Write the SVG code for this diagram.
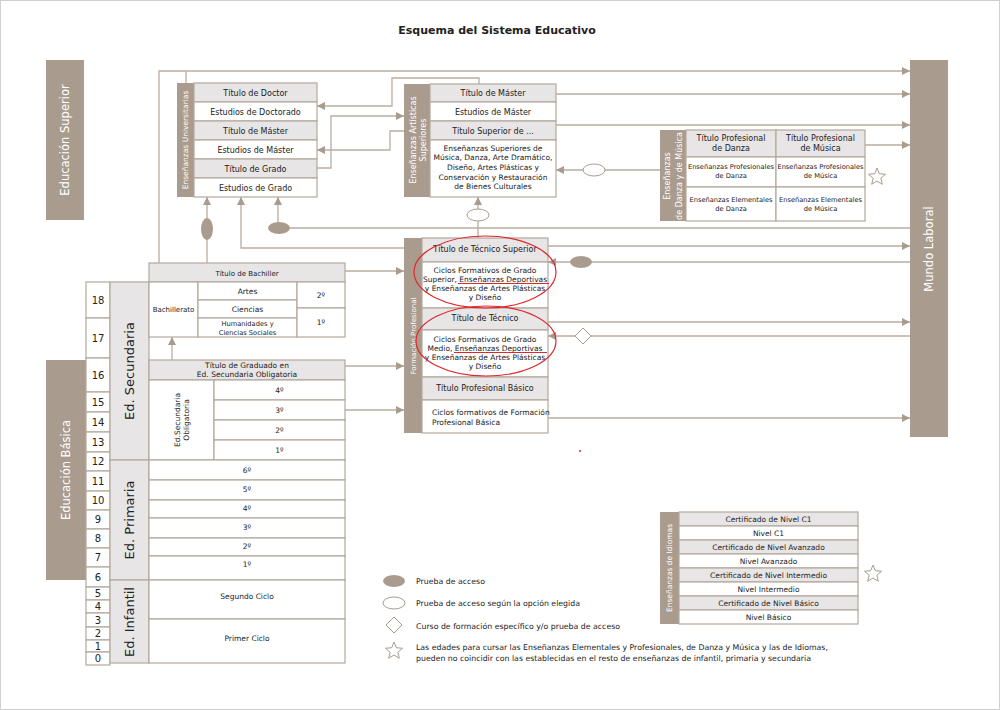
<svg xmlns="http://www.w3.org/2000/svg" width="1000" height="710" viewBox="0 0 1000 710">
<style>
text{font-family:"DejaVu Sans","Noto Sans",sans-serif;fill:#222;}
.c{text-anchor:middle;}
.b{fill:#a99c8f;stroke:none;}
.g{fill:#e7e5e5;stroke:#b3a89d;stroke-width:1.2;}
.w{fill:#fff;stroke:#b3a89d;stroke-width:1.2;}
.wt{fill:#fff;text-anchor:middle;}
.f8{font-size:8px;}
.f75{font-size:7.5px;}
.lg{font-size:7.8px;}
.f7{font-size:7px;}
.f68{font-size:6.7px;}
.age{font-size:10px;text-anchor:middle;}
.big{font-size:13px;text-anchor:middle;}
.conn path{fill:none;stroke:#b9ada1;stroke-width:1.3;}
.fe{fill:#a99c8f;stroke:none;}
.oe{fill:#fff;stroke:#a99c8f;stroke-width:1;}
.red{fill:none;stroke:#e0262b;stroke-width:1.2;}
</style>
<defs>
<marker id="ar" markerWidth="8" markerHeight="8" refX="8" refY="4" orient="auto" markerUnits="userSpaceOnUse"><path d="M0,0 L8,4 L0,8 z" fill="#a99c8f"/></marker>
<polygon id="star" points="0,-9 2.35,-3.24 8.56,-2.78 3.8,1.24 5.29,7.28 0,4 -5.29,7.28 -3.8,1.24 -8.56,-2.78 -2.35,-3.24" fill="#fff" stroke="#a99c8f" stroke-width="1"/>
</defs>
<rect x="0.5" y="0.5" width="999" height="709" fill="#fff" stroke="#d0d0d0"/>
<text x="497" y="34" class="c" style="font-size:11px;font-weight:bold;">Esquema del Sistema Educativo</text>

<g id="educacion-superior">
<rect x="46" y="60" width="38" height="160" class="b"/>
<text class="wt" transform="translate(69,140) rotate(-90)" style="font-size:11.5px">Educación Superior</text>
</g>
<g id="educacion-basica">
<rect x="46" y="360" width="40" height="220" class="b"/>
<text class="wt" transform="translate(70,470) rotate(-90)" style="font-size:11.5px">Educación Básica</text>
</g>
<g id="mundo-laboral">
<rect x="910" y="60" width="38" height="377" class="b"/>
<text class="wt" transform="translate(933,249) rotate(-90)" style="font-size:11.5px">Mundo Laboral</text>
</g>

<g id="edades">
<rect x="86" y="282" width="24" height="36" class="w"/><text x="98" y="304" class="age">18</text>
<rect x="86" y="318" width="24" height="40" class="w"/><text x="98" y="342" class="age">17</text>
<rect x="86" y="358" width="24" height="34" class="w"/><text x="98" y="379" class="age">16</text>
<rect x="86" y="392" width="24" height="20" class="w"/><text x="98" y="406" class="age">15</text>
<rect x="86" y="412" width="24" height="20" class="w"/><text x="98" y="426" class="age">14</text>
<rect x="86" y="432" width="24" height="20" class="w"/><text x="98" y="446" class="age">13</text>
<rect x="86" y="452" width="24" height="19" class="w"/><text x="98" y="465" class="age">12</text>
<rect x="86" y="471" width="24" height="20" class="w"/><text x="98" y="485" class="age">11</text>
<rect x="86" y="491" width="24" height="19" class="w"/><text x="98" y="504" class="age">10</text>
<rect x="86" y="510" width="24" height="19" class="w"/><text x="98" y="523" class="age">9</text>
<rect x="86" y="529" width="24" height="19" class="w"/><text x="98" y="542" class="age">8</text>
<rect x="86" y="548" width="24" height="19" class="w"/><text x="98" y="561" class="age">7</text>
<rect x="86" y="567" width="24" height="20" class="w"/><text x="98" y="581" class="age">6</text>
<rect x="86" y="587" width="24" height="13" class="w"/><text x="98" y="597" class="age">5</text>
<rect x="86" y="600" width="24" height="13" class="w"/><text x="98" y="610" class="age">4</text>
<rect x="86" y="613" width="24" height="14" class="w"/><text x="98" y="624" class="age">3</text>
<rect x="86" y="627" width="24" height="13" class="w"/><text x="98" y="637" class="age">2</text>
<rect x="86" y="640" width="24" height="12" class="w"/><text x="98" y="650" class="age">1</text>
<rect x="86" y="652" width="24" height="13" class="w"/><text x="98" y="662" class="age">0</text>
</g>

<g id="ed-secundaria">
<rect x="110" y="282" width="39" height="178" class="g"/>
<text class="big" transform="translate(134,371) rotate(-90)">Ed. Secundaria</text>
</g>
<g id="ed-primaria">
<rect x="110" y="460" width="39" height="120" class="g"/>
<text class="big" transform="translate(134,520) rotate(-90)">Ed. Primaria</text>
</g>
<g id="ed-infantil">
<rect x="110" y="580" width="39" height="83" class="g"/>
<text class="big" transform="translate(134,622) rotate(-90)">Ed. Infantil</text>
</g>

<g id="bachillerato">
<rect x="149" y="263" width="196" height="19" class="g"/>
<text x="247" y="275.5" class="c f7">Título de Bachiller</text>
<rect x="149" y="282" width="49" height="55" class="w"/>
<text x="173.5" y="312" class="c f7">Bachillerato</text>
<rect x="198" y="282" width="99" height="18" class="w"/>
<text x="247.5" y="293.5" class="c f75">Artes</text>
<rect x="198" y="300" width="99" height="18" class="w"/>
<text x="247.5" y="311.5" class="c f75">Ciencias</text>
<rect x="198" y="318" width="99" height="19" class="w"/>
<text x="247.5" y="326" class="c f68">Humanidades y</text>
<text x="247.5" y="334.5" class="c f68">Ciencias Sociales</text>
<rect x="297" y="282" width="48" height="26" class="w"/>
<text x="321" y="297.5" class="c f75">2º</text>
<rect x="297" y="308" width="48" height="29" class="w"/>
<text x="321" y="325" class="c f75">1º</text>
</g>

<g id="eso">
<rect x="149" y="360" width="196" height="20" class="g"/>
<text x="247" y="367.5" class="c f75">Título de Graduado en</text>
<text x="247" y="377" class="c f75">Ed. Secundaria Obligatoria</text>
<rect x="149" y="380" width="65" height="80" class="w"/>
<text class="c f75" transform="translate(181,420) rotate(-90)"><tspan x="0" y="-1.5">Ed.Secundaria</tspan><tspan x="0" y="7.5">Obligatoria</tspan></text>
<rect x="214" y="380" width="131" height="20" class="w"/><text x="279.5" y="393" class="c f75">4º</text>
<rect x="214" y="400" width="131" height="20" class="w"/><text x="279.5" y="413" class="c f75">3º</text>
<rect x="214" y="420" width="131" height="20" class="w"/><text x="279.5" y="433" class="c f75">2º</text>
<rect x="214" y="440" width="131" height="20" class="w"/><text x="279.5" y="453" class="c f75">1º</text>
</g>

<g id="primaria">
<rect x="149" y="460" width="196" height="20" class="w"/><text x="247" y="472.5" class="c f75">6º</text>
<rect x="149" y="480" width="196" height="20" class="w"/><text x="247" y="492" class="c f75">5º</text>
<rect x="149" y="500" width="196" height="18" class="w"/><text x="247" y="511" class="c f75">4º</text>
<rect x="149" y="518" width="196" height="20" class="w"/><text x="247" y="530" class="c f75">3º</text>
<rect x="149" y="538" width="196" height="18" class="w"/><text x="247" y="549" class="c f75">2º</text>
<rect x="149" y="556" width="196" height="24" class="w"/><text x="247" y="567" class="c f75">1º</text>
</g>
<g id="infantil">
<rect x="149" y="580" width="196" height="39" class="w"/><text x="247" y="598.5" class="c f75">Segundo Ciclo</text>
<rect x="149" y="619" width="196" height="44" class="w"/><text x="247" y="641" class="c f75">Primer Ciclo</text>
</g>

<g id="universitarias">
<rect x="177" y="83" width="17" height="114" class="b"/>
<text class="wt f75" transform="translate(188,140) rotate(-90)">Enseñanzas Universitarias</text>
<rect x="194" y="83" width="123" height="19" class="g"/><text x="255.5" y="95.5" class="c f8">Título de Doctor</text>
<rect x="194" y="102" width="123" height="19" class="w"/><text x="255.5" y="114.5" class="c f8">Estudios de Doctorado</text>
<rect x="194" y="121" width="123" height="19" class="g"/><text x="255.5" y="133.5" class="c f8">Título de Máster</text>
<rect x="194" y="140" width="123" height="19" class="w"/><text x="255.5" y="152.5" class="c f8">Estudios de Máster</text>
<rect x="194" y="159" width="123" height="19" class="g"/><text x="255.5" y="171.5" class="c f8">Título de Grado</text>
<rect x="194" y="178" width="123" height="19" class="w"/><text x="255.5" y="190.5" class="c f8">Estudios de Grado</text>
</g>

<g id="artisticas">
<rect x="404" y="84" width="26" height="113" class="b"/>
<text class="wt f8" transform="translate(417,140) rotate(-90)"><tspan x="0" y="-1">Enseñanzas Artísticas</tspan><tspan x="0" y="9">Superiores</tspan></text>
<rect x="430" y="84" width="126" height="18" class="g"/><text x="493" y="96" class="c f8">Título de Máster</text>
<rect x="430" y="102" width="126" height="19" class="w"/><text x="493" y="114.5" class="c f8">Estudios de Máster</text>
<rect x="430" y="121" width="126" height="19" class="g"/><text x="493" y="133.5" class="c f8">Título Superior de ...</text>
<rect x="430" y="140" width="126" height="57" class="w"/>
<text x="493" y="150.5" class="c f75">Enseñanzas Superiores de</text>
<text x="493" y="160.2" class="c f75">Música, Danza, Arte Dramático,</text>
<text x="493" y="169.9" class="c f75">Diseño, Artes Plásticas y</text>
<text x="493" y="179.6" class="c f75">Conservación y Restauración</text>
<text x="493" y="189.3" class="c f75">de Bienes Culturales</text>
</g>

<g id="danza-musica">
<rect x="660" y="130" width="26" height="91" class="b"/>
<text class="wt f8" transform="translate(673,176) rotate(-90)"><tspan x="0" y="-3">Enseñanzas</tspan><tspan x="0" y="9">de Danza y de Música</tspan></text>
<rect x="686" y="130" width="90" height="27" class="g"/>
<text x="731" y="141" class="c f8">Título Profesional</text><text x="731" y="151" class="c f8">de Danza</text>
<rect x="776" y="130" width="89" height="27" class="g"/>
<text x="820.5" y="141" class="c f8">Título Profesional</text><text x="820.5" y="151" class="c f8">de Música</text>
<rect x="686" y="157" width="90" height="30" class="w"/>
<text x="731" y="168.5" class="c f68">Enseñanzas Profesionales</text><text x="731" y="177.5" class="c f68">de Danza</text>
<rect x="776" y="157" width="89" height="30" class="w"/>
<text x="820.5" y="168.5" class="c f68">Enseñanzas Profesionales</text><text x="820.5" y="177.5" class="c f68">de Música</text>
<rect x="686" y="187" width="90" height="34" class="w"/>
<text x="731" y="202" class="c f68">Enseñanzas Elementales</text><text x="731" y="211" class="c f68">de Danza</text>
<rect x="776" y="187" width="89" height="34" class="w"/>
<text x="820.5" y="202" class="c f68">Enseñanzas Elementales</text><text x="820.5" y="211" class="c f68">de Música</text>
<use href="#star" x="877" y="177"/>
</g>

<g id="formacion-profesional">
<rect x="404" y="238" width="18" height="195" class="b"/>
<text class="wt f7" transform="translate(415.5,336) rotate(-90)">Formación Profesional</text>
<rect x="422" y="238" width="126" height="24" class="g"/><text x="485" y="252" class="c f8">Título de Técnico Superior</text>
<rect x="422" y="262" width="126" height="46" class="w"/>
<text x="485" y="272.6" class="c f75">Ciclos Formativos de Grado</text>
<text x="485" y="281.8" class="c f75">Superior, Enseñanzas Deportivas</text>
<text x="485" y="291" class="c f75">y Enseñanzas de Artes Plásticas</text>
<text x="485" y="300.4" class="c f75">y Diseño</text>
<rect x="422" y="308" width="126" height="22" class="g"/><text x="485" y="321" class="c f8">Título de Técnico</text>
<rect x="422" y="330" width="126" height="47" class="w"/>
<text x="485" y="341.6" class="c f75">Ciclos Formativos de Grado</text>
<text x="485" y="350.8" class="c f75">Medio, Enseñanzas Deportivas</text>
<text x="485" y="360" class="c f75">y Enseñanzas de Artes Plásticas</text>
<text x="485" y="369.4" class="c f75">y Diseño</text>
<rect x="422" y="377" width="126" height="23" class="g"/><text x="485" y="391" class="c f8">Título Profesional Básico</text>
<rect x="422" y="400" width="126" height="33" class="w"/>
<text x="432" y="414.5" class="f75">Ciclos formativos de Formación</text>
<text x="432" y="424.5" class="f75">Profesional Básica</text>
</g>

<g id="idiomas">
<rect x="660" y="512" width="19" height="112" class="b"/>
<text class="wt f75" transform="translate(671.5,568) rotate(-90)">Enseñanzas de Idiomas</text>
<rect x="679" y="512" width="179" height="14" class="g"/><text x="768.5" y="522" class="c f75">Certificado de Nivel C1</text>
<rect x="679" y="526" width="179" height="14" class="w"/><text x="768.5" y="536" class="c f75">Nivel C1</text>
<rect x="679" y="540" width="179" height="14" class="g"/><text x="768.5" y="550" class="c f75">Certificado de Nivel Avanzado</text>
<rect x="679" y="554" width="179" height="14" class="w"/><text x="768.5" y="564" class="c f75">Nivel Avanzado</text>
<rect x="679" y="568" width="179" height="14" class="g"/><text x="768.5" y="578" class="c f75">Certificado de Nivel Intermedio</text>
<rect x="679" y="582" width="179" height="14" class="w"/><text x="768.5" y="592" class="c f75">Nivel Intermedio</text>
<rect x="679" y="596" width="179" height="14" class="g"/><text x="768.5" y="606" class="c f75">Certificado de Nivel Básico</text>
<rect x="679" y="610" width="179" height="14" class="w"/><text x="768.5" y="620" class="c f75">Nivel Básico</text>
<use href="#star" x="873" y="574"/>
</g>

<g id="connectors" class="conn">
<path d="M159,263 V71 H910" marker-end="url(#ar)"/>
<path d="M186,83 V71"/>
<path d="M207,263 V197" marker-end="url(#ar)"/>
<path d="M404,248 H241 V197" marker-end="url(#ar)"/>
<path d="M910,228 H278 V197" marker-end="url(#ar)"/>
<path d="M479,84 V78 H392 V106 H317" marker-end="url(#ar)"/>
<path d="M317,168 H331 V116 H404" marker-end="url(#ar)"/>
<path d="M404,131 H390 V150 H317" marker-end="url(#ar)"/>
<path d="M556,94 H910" marker-end="url(#ar)"/>
<path d="M556,125 H910" marker-end="url(#ar)"/>
<path d="M865,145 H910" marker-end="url(#ar)"/>
<path d="M660,170 H556" marker-end="url(#ar)"/>
<path d="M478,238 V197" marker-end="url(#ar)"/>
<path d="M548,246 H910" marker-end="url(#ar)"/>
<path d="M910,262 H548" marker-end="url(#ar)"/>
<path d="M548,322 H910" marker-end="url(#ar)"/>
<path d="M910,336 H548" marker-end="url(#ar)"/>
<path d="M548,418 H910" marker-end="url(#ar)"/>
<path d="M345,271 H404" marker-end="url(#ar)"/>
<path d="M345,366 H404" marker-end="url(#ar)"/>
<path d="M345,410 H404" marker-end="url(#ar)"/>
<path d="M172,360 V337" marker-end="url(#ar)"/>
<ellipse cx="207" cy="229" rx="6" ry="11" class="fe"/>
<ellipse cx="279" cy="228" rx="11" ry="6" class="fe"/>
<ellipse cx="594" cy="170" rx="11" ry="6" class="oe"/>
<ellipse cx="478" cy="215" rx="11" ry="6" class="oe"/>
<ellipse cx="581" cy="262" rx="11" ry="6" class="fe"/>
<polygon points="583,328 591,336 583,344 575,336" class="oe"/>
</g>

<g id="marcas-rojas">
<ellipse cx="485" cy="272" rx="71" ry="36" class="red"/>
<ellipse cx="486" cy="341" rx="70" ry="35" class="red"/>
<path d="M458,283.5 H549" class="red"/>
<path d="M454,352.5 H547" class="red"/>
<circle cx="580" cy="451" r="1" fill="#e0262b"/>
</g>

<g id="leyenda">
<ellipse cx="394" cy="581" rx="11" ry="6" class="fe"/>
<text x="416" y="584" class="lg">Prueba de acceso</text>
<ellipse cx="394" cy="603" rx="11" ry="6" class="oe"/>
<text x="416" y="606" class="lg">Prueba de acceso según la opción elegida</text>
<polygon points="394,617 402,625 394,633 386,625" class="oe"/>
<text x="416" y="629" class="lg">Curso de formación específico y/o prueba de acceso</text>
<use href="#star" x="394" y="651"/>
<text x="416" y="650" class="lg">Las edades para cursar las Enseñanzas Elementales y Profesionales, de Danza y Música y las de Idiomas,</text>
<text x="416" y="660.5" class="lg">pueden no coincidir con las establecidas en el resto de enseñanzas de infantil, primaria y secundaria</text>
</g>
</svg>
